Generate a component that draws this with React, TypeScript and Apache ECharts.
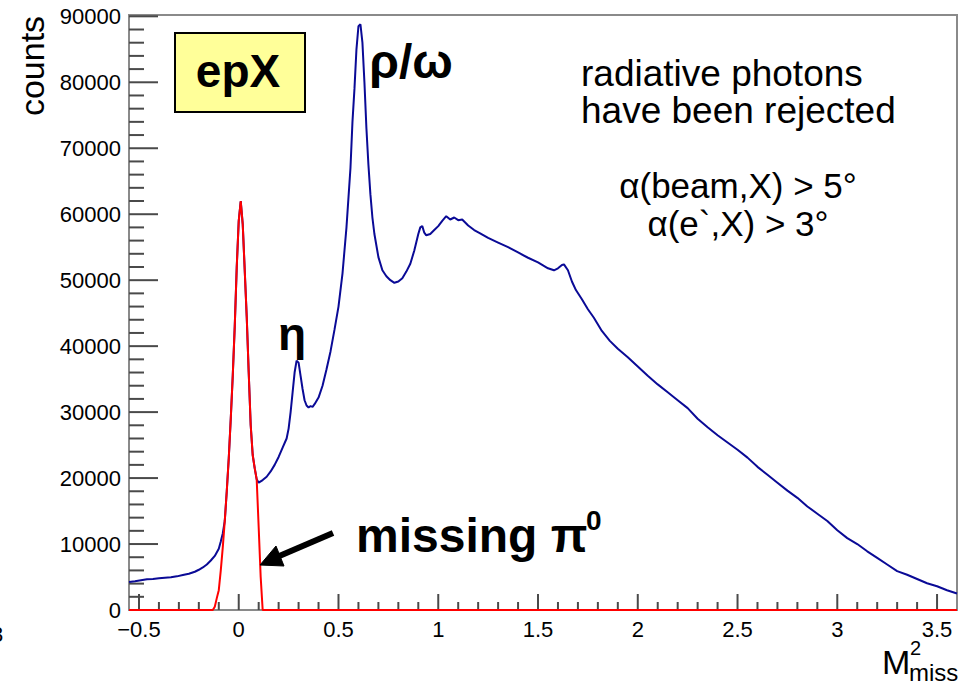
import React, { useEffect, useRef } from "react";
import * as echarts from "echarts";

// Missing mass squared histogram (blue: all epX events)
const blueMass = [
  -0.55, -0.52, -0.49, -0.46, -0.43, -0.4, -0.37, -0.34, -0.31, -0.28, -0.25, -0.22, -0.2, -0.18, -0.16,
  -0.14, -0.12, -0.1, -0.09, -0.08, -0.07, -0.06, -0.05, -0.04, -0.03, -0.02, -0.01, 0.0, 0.01, 0.02,
  0.03, 0.04, 0.05, 0.06, 0.07, 0.08, 0.09, 0.1, 0.11, 0.12, 0.14, 0.16, 0.18, 0.2, 0.22,
  0.24, 0.25, 0.26, 0.27, 0.28, 0.29, 0.3, 0.31, 0.32, 0.33, 0.34, 0.35, 0.36, 0.37, 0.38,
  0.4, 0.42, 0.44, 0.46, 0.48, 0.5, 0.52, 0.54, 0.56, 0.57, 0.58, 0.59, 0.6, 0.61, 0.62,
  0.63, 0.64, 0.65, 0.66, 0.67, 0.68, 0.7, 0.72, 0.74, 0.76, 0.78, 0.8, 0.82, 0.84, 0.86,
  0.88, 0.9, 0.91, 0.92, 0.93, 0.94, 0.96, 0.98, 1.0, 1.02, 1.04, 1.06, 1.08, 1.1, 1.12,
  1.15, 1.18, 1.21, 1.25, 1.3, 1.35, 1.4, 1.45, 1.5, 1.55, 1.58, 1.6, 1.62, 1.63, 1.65,
  1.67, 1.69, 1.72, 1.75, 1.78, 1.82, 1.86, 1.9, 1.95, 2.0, 2.05, 2.1, 2.15, 2.2, 2.25,
  2.3, 2.35, 2.4, 2.45, 2.5, 2.55, 2.6, 2.65, 2.7, 2.75, 2.8, 2.85, 2.9, 2.95, 3.0,
  3.05, 3.1, 3.15, 3.2, 3.25, 3.3, 3.35, 3.4, 3.45, 3.5, 3.55, 3.6,
];
const blueCounts = [
  4250, 4350, 4500, 4650, 4700, 4800, 4900, 4950, 5100, 5300, 5500, 5800, 6100, 6450, 6900,
  7500, 8200, 9300, 10400, 11600, 13500, 18000, 23000, 29000, 35500, 43000, 52000, 59000, 62000, 58500,
  51500, 44500, 36000, 28000, 23500, 21500, 19800, 19300, 19500, 19700, 20200, 21000, 22000, 23200, 24600,
  26000, 27500, 30000, 33000, 36000, 37800, 37500, 35500, 33500, 31800, 31000, 30700, 30900, 30800, 31200,
  32200, 34000, 36500, 39200, 42500, 46000, 51000, 58000, 67000, 74000, 79000, 85000, 88500, 88800, 86000,
  80000, 73000, 67500, 63000, 59500, 57000, 53500, 51500, 50600, 50000, 49600, 49800, 50300, 51300, 52500,
  54500, 57000, 58000, 58200, 57200, 56800, 57000, 57600, 58200, 59000, 59700, 59200, 59500, 59100, 59200,
  58300, 57600, 57100, 56400, 55700, 55000, 54200, 53400, 52700, 51800, 51500, 51800, 52300, 52400, 51500,
  49800, 48500, 47100, 45600, 44300, 42300, 40800, 39600, 38300, 36900, 35500, 34200, 33000, 31800, 30600,
  29000, 27700, 26500, 25400, 24300, 23100, 21700, 20500, 19300, 18100, 17000, 15700, 14600, 13500, 12100,
  10900, 10000, 8900, 7900, 6900, 5900, 5350, 4700, 4050, 3600, 3000, 2500,
];

// Selected missing pi0 peak (red)
const redMass = [
  -0.55, -0.13, -0.12, -0.11, -0.1, -0.09, -0.08, -0.07, -0.06, -0.05, -0.04, -0.03, -0.02, -0.01, 0.0,
  0.01, 0.02, 0.03, 0.04, 0.05, 0.06, 0.07, 0.08, 0.09, 0.1, 0.11, 0.12, 3.6,
];
const redCounts = [
  0, 0, 500, 1800, 3000, 6000, 9500, 13500, 18000, 23000, 29000, 35500, 43000, 52000, 59000,
  62000, 58500, 51500, 44500, 36000, 28000, 23500, 21500, 19800, 12500, 5000, 0, 0,
];

const xTickLabels = [-0.5, 0, 0.5, 1, 1.5, 2, 2.5, 3, 3.5];
const yTickLabels = [0, 10000, 20000, 30000, 40000, 50000, 60000, 70000, 80000, 90000];

const X_MIN = -0.55;
const X_MAX = 3.6;
const Y_MAX = 90200;

const FONT = "'Liberation Sans', Arial, Helvetica, sans-serif";

function steps(from: number, to: number, step: number): number[] {
  const out: number[] = [];
  const n = Math.round((to - from) / step);
  for (let i = 0; i <= n; i++) out.push(Math.round((from + i * step) * 1000) / 1000);
  return out;
}

export default function App() {
  const ref = useRef<HTMLDivElement>(null);

  useEffect(() => {
    if (!ref.current) return;
    const chart = echarts.init(ref.current, undefined, { renderer: "svg" });

    const blueData = blueMass.map((m, i) => [m, blueCounts[i]]);
    const redData = redMass.map((m, i) => [m, redCounts[i]]);

    // ROOT-style inside ticks: [position, tick length in px]
    const xTicks = steps(-0.5, 3.5, 0.1).map((v) => [
      v,
      xTickLabels.some((t) => Math.abs(t - v) < 1e-6) ? 16 : 8,
    ]);
    const yTicks = steps(0, 90000, 2000).map((v) => [v, v % 10000 === 0 ? 29 : 15]);

    const axisGray = "#8a8a8a";
    const tickColor = "#4a4a4a";

    const txt = (
      text: string,
      x: number,
      y: number,
      font: string,
      align: string = "left",
      extra: any = {}
    ) => ({
      type: "text",
      x,
      y,
      z: 100,
      ...extra,
      style: {
        text,
        font,
        fill: "#000",
        textAlign: align,
        textVerticalAlign: "middle",
      },
    });

    chart.setOption({
      animation: false,
      backgroundColor: "#fff",
      grid: {
        left: 129,
        right: 10,
        top: 15,
        bottom: 75,
        show: true,
        borderColor: axisGray,
        borderWidth: 2,
        backgroundColor: "transparent",
      },
      xAxis: {
        type: "value",
        min: X_MIN,
        max: X_MAX,
        position: "bottom",
        axisLine: { show: true, onZero: false, lineStyle: { color: axisGray, width: 2 } },
        splitLine: { show: false },
        axisTick: { show: false },
        axisLabel: {
          customValues: xTickLabels,
          fontFamily: FONT,
          fontSize: 22,
          color: "#000",
          margin: 8,
          formatter: (v: number) => (v < 0 ? "\u2212" + Math.abs(v) : String(v)),
        },
      },
      yAxis: {
        type: "value",
        min: 0,
        max: Y_MAX,
        position: "left",
        axisLine: { show: true, onZero: false, lineStyle: { color: axisGray, width: 2 } },
        splitLine: { show: false },
        axisTick: { show: false },
        axisLabel: {
          customValues: yTickLabels,
          fontFamily: FONT,
          fontSize: 22,
          color: "#000",
          margin: 8,
          formatter: (v: number) => String(v),
        },
      },
      series: [
        {
          name: "xTicks",
          type: "custom",
          clip: false,
          silent: true,
          z: 5,
          data: xTicks.map(([v, len]) => [v, 0, len]),
          encode: { x: 0, y: 1 },
          renderItem: (_params: any, api: any) => {
            const p = api.coord([api.value(0), 0]);
            const len = api.value(2);
            return {
              type: "line",
              shape: { x1: p[0], y1: p[1], x2: p[0], y2: p[1] - len },
              style: { stroke: tickColor, lineWidth: 2 },
            };
          },
        },
        {
          name: "yTicks",
          type: "custom",
          clip: false,
          silent: true,
          z: 5,
          data: yTicks.map(([v, len]) => [X_MIN, v, len]),
          encode: { x: 0, y: 1 },
          renderItem: (_params: any, api: any) => {
            const p = api.coord([X_MIN, api.value(1)]);
            const len = api.value(2);
            return {
              type: "line",
              shape: { x1: p[0], y1: p[1], x2: p[0] + len, y2: p[1] },
              style: { stroke: tickColor, lineWidth: 2 },
            };
          },
        },
        {
          name: "epX",
          type: "line",
          data: blueData,
          showSymbol: false,
          symbol: "none",
          lineStyle: { color: "#0a0a96", width: 2 },
          z: 6,
        },
        {
          name: "missing pi0",
          type: "line",
          data: redData,
          showSymbol: false,
          symbol: "none",
          lineStyle: { color: "#ff0000", width: 2 },
          z: 7,
        },
      ],
      graphic: [
        {
          type: "rect",
          z: 90,
          shape: { x: 175, y: 33, width: 130, height: 79 },
          style: { fill: "#ffff99", stroke: "#000", lineWidth: 2 },
        },
        txt("epX", 238, 71, `bold 46px ${FONT}`, "center"),
        txt("\u03c1/\u03c9", 411, 61, `bold 48px ${FONT}`, "center"),
        txt("\u03b7", 292, 334, `bold 46px ${FONT}`, "center"),
        txt("radiative photons", 581, 73, `37px ${FONT}`),
        txt("have been rejected", 581, 110, `37px ${FONT}`),
        txt("\u03b1(beam,X) > 5\u00b0", 738, 185, `35px ${FONT}`, "center"),
        txt("\u03b1(e`,X) > 3\u00b0", 738, 223, `35px ${FONT}`, "center"),
        txt("missing \u03c0", 356, 535, `bold 48px ${FONT}`),
        txt("0", 586, 520, `bold 28px ${FONT}`),
        {
          type: "line",
          z: 100,
          shape: { x1: 333, y1: 533, x2: 277, y2: 557 },
          style: { stroke: "#000", lineWidth: 6 },
        },
        {
          type: "polygon",
          z: 100,
          shape: { points: [[260, 565], [284, 566], [276, 546]] },
          style: { fill: "#000", stroke: "#000", lineWidth: 1 },
        },
        txt("counts", 32, 66, `34px ${FONT}`, "center", { rotation: Math.PI / 2 }),
        txt("M", 882, 662, `34px ${FONT}`),
        txt("2", 910, 648, `20px ${FONT}`),
        txt("miss", 909, 672, `24px ${FONT}`),
        txt("3", -3, 634, `22px ${FONT}`, "center"),
      ],
    });

    return () => chart.dispose();
  }, []);

  return (
    <div
      ref={ref}
      style={{ position: "absolute", left: 0, top: 0, width: 967, height: 685 }}
    />
  );
}
